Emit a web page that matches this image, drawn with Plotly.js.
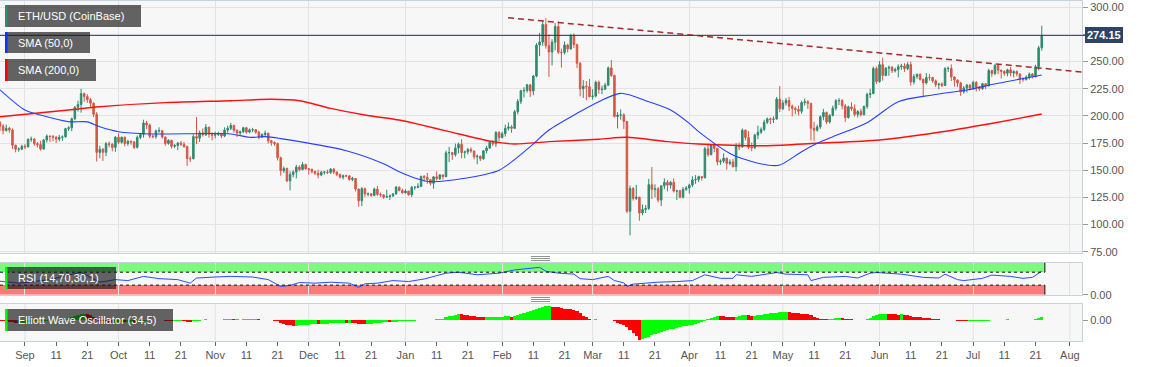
<!DOCTYPE html>
<html><head><meta charset="utf-8">
<script src="https://cdn.plot.ly/plotly-3.0.1.min.js"></script>
<style>html,body{margin:0;padding:0;background:#fff;}#chart{width:1153px;height:367px;}</style>
</head><body><div id="chart"></div>
<script>
// ---------- DATA ----------
const startDate = '2019-08-24';   // first daily candle
const open = [
194.2,190.6,186.6,188.6,187.0,173.0,169.3,169.4,
172.0,171.6,178.3,178.6,174.5,173.6,169.5,177.8,181.4,181.0,180.4,178.6,180.3,180.7,188.3,189.1,197.4,208.0,210.5,220.5,217.8,215.0,211.7,201.5,166.4,169.3,166.5,174.4,173.8,171.0,
180.4,175.7,180.4,174.6,176.6,176.0,171.1,180.2,182.9,193.5,191.6,181.3,180.9,186.2,186.4,180.6,174.7,177.5,172.0,172.7,175.0,173.8,171.9,160.7,160.6,181.0,179.5,184.4,182.6,189.6,183.1,
182.2,182.9,183.9,181.5,186.9,188.6,191.2,186.8,184.2,185.5,189.1,185.1,187.2,187.3,185.0,180.4,182.9,184.1,177.1,175.5,174.5,161.5,149.5,151.6,140.2,146.0,148.3,152.9,150.6,155.2,
151.3,150.8,148.9,147.2,145.6,148.1,148.4,148.0,151.0,148.3,146.0,143.6,144.9,144.8,141.4,142.4,132.7,121.9,133.0,128.2,128.3,126.8,132.7,127.7,127.3,125.2,125.8,126.3,128.2,134.4,131.4,
129.2,130.8,127.4,134.2,134.2,135.1,144.3,143.5,141.3,138.0,143.9,142.2,145.7,144.2,166.0,166.2,164.4,170.4,173.9,166.3,166.9,169.0,167.7,162.3,162.9,160.6,167.9,170.5,175.7,174.3,184.7,
180.0,183.6,188.6,189.9,188.6,203.9,213.2,223.1,223.5,228.6,222.9,236.7,265.2,268.0,284.2,264.7,258.9,267.9,282.3,258.6,258.5,265.3,261.7,274.2,265.6,248.5,224.9,227.3,226.8,
217.8,218.3,231.0,224.3,224.6,228.3,244.2,237.2,199.5,200.8,201.0,194.9,112.3,133.2,124.0,125.2,110.6,113.9,114.8,136.7,132.4,132.9,122.5,135.6,138.8,136.3,138.9,130.8,131.0,125.2,132.4,
133.6,136.3,141.1,141.6,144.1,143.1,169.7,164.5,173.2,170.2,157.7,158.4,161.1,156.3,157.6,153.3,172.2,171.6,186.9,180.1,171.1,170.7,182.4,185.0,187.6,194.2,197.3,196.8,197.2,215.5,
206.6,211.9,214.2,208.9,206.9,205.9,204.3,212.3,213.0,211.6,188.6,186.9,189.9,199.2,203.2,194.4,200.6,207.1,214.0,214.1,209.3,198.5,208.3,206.7,201.4,204.0,201.1,208.7,219.7,220.6,243.6,
231.7,247.2,237.2,244.0,244.7,241.5,242.7,245.3,245.9,243.5,247.3,231.2,236.3,238.3,233.6,230.4,235.4,235.3,232.3,228.8,229.4,228.0,243.5,243.8,235.9,233.0,230.2,222.2,225.6,228.3,
225.7,230.9,226.4,225.0,229.6,227.7,241.8,239.0,246.4,242.2,240.9,239.2,242.4,239.5,240.8,238.7,233.6,233.5,235.6,238.6,236.1,245.3,262.7];
const high = [
195.0,192.5,192.0,190.0,188.5,173.5,171.0,173.5,
174.0,179.5,181.0,179.5,176.0,177.0,179.0,183.0,182.0,182.5,181.5,182.5,182.0,189.0,190.5,198.5,209.0,214.0,225.0,221.5,220.0,216.5,212.5,203.5,172.5,170.5,176.0,176.5,175.0,181.5,
184.0,181.0,181.0,178.0,177.5,177.0,182.0,184.5,196.5,195.5,193.0,183.0,187.5,189.5,187.0,181.0,178.5,178.0,174.0,176.0,177.0,176.0,172.5,163.0,183.0,199.0,186.5,188.5,192.5,190.0,185.0,
185.5,185.5,184.5,189.5,191.0,193.5,192.0,187.5,186.5,190.0,190.0,188.5,189.0,188.0,186.5,184.0,186.5,184.5,178.0,176.5,175.5,162.5,153.5,152.5,149.0,150.0,155.0,154.5,157.5,156.0,
152.0,151.5,149.5,150.5,149.5,149.5,150.5,152.0,152.0,149.0,147.0,146.0,146.0,145.5,144.0,142.8,133.0,134.5,134.0,129.5,128.8,134.0,135.5,129.5,127.8,132.0,127.5,129.0,135.5,135.0,133.0,
132.5,131.0,135.5,135.5,138.0,145.0,145.5,147.5,142.0,144.5,149.0,146.5,146.0,168.0,171.5,166.5,174.5,175.5,178.5,168.0,170.5,171.0,168.0,164.5,163.5,168.5,172.5,176.5,178.0,186.0,186.0,
185.5,192.0,194.0,191.5,205.5,215.5,224.0,226.5,229.5,229.5,237.5,267.0,276.5,287.5,290.0,275.0,270.5,285.5,287.0,262.0,268.5,266.5,275.5,276.0,266.5,249.5,233.0,232.0,234.0,
224.5,232.5,232.5,228.0,230.5,245.5,251.5,238.0,203.5,206.0,202.5,195.5,136.0,134.5,136.5,125.5,118.5,118.0,142.0,153.0,137.0,134.5,136.0,142.5,141.0,140.0,142.5,132.0,132.0,134.5,135.5,
137.5,144.5,145.5,145.0,144.5,171.5,174.5,174.0,174.0,170.5,160.0,165.5,161.5,160.0,160.5,175.0,175.5,188.5,187.5,186.0,175.5,183.5,191.0,189.5,196.5,198.5,198.5,199.5,217.5,227.5,
214.5,216.5,217.5,210.5,208.5,209.5,214.0,216.0,214.5,212.0,194.5,192.0,200.5,206.5,204.0,201.5,209.5,215.5,216.5,215.5,211.0,209.5,212.5,210.5,205.5,206.5,209.5,221.5,225.0,245.5,245.5,
250.5,253.5,245.0,246.5,246.0,244.5,247.5,248.0,248.5,249.5,250.0,238.5,239.0,239.0,234.5,239.5,238.5,236.0,233.5,230.5,231.0,245.0,245.5,247.5,236.5,233.5,231.5,227.5,229.5,229.5,
232.5,232.0,227.5,230.5,230.0,243.5,242.5,248.0,247.5,242.5,242.0,243.5,245.0,242.0,242.0,239.0,235.5,237.5,240.0,239.5,247.0,264.5,283.0];
const low = [
186.0,183.0,185.5,184.5,169.5,166.5,167.0,168.5,
169.5,170.8,176.0,172.5,171.0,168.0,169.0,175.5,176.0,176.5,175.0,176.5,177.0,180.0,186.0,186.0,196.0,204.0,203.0,213.0,212.0,208.0,199.0,158.0,161.0,158.5,163.0,171.0,167.5,167.0,
174.0,174.5,172.0,172.5,173.5,169.5,170.0,178.5,180.0,188.0,179.5,179.5,179.0,184.5,179.0,172.5,173.5,170.0,170.5,168.5,172.5,170.5,154.0,157.5,160.0,174.0,176.0,181.0,181.5,180.0,177.5,
179.5,181.5,179.5,180.5,184.5,187.0,184.5,180.5,182.5,184.0,183.5,184.0,185.0,183.5,178.5,180.0,181.5,174.5,172.5,172.5,159.0,145.0,147.5,139.0,131.5,143.5,142.5,149.0,150.0,150.5,
146.0,147.0,145.5,142.5,144.5,146.0,146.5,146.5,146.5,144.5,142.5,141.5,143.5,140.5,140.0,130.5,116.5,117.0,125.5,126.0,125.5,126.0,126.5,125.5,123.5,124.5,122.5,125.5,127.5,130.5,128.5,
128.5,126.5,125.5,132.0,133.5,134.5,139.5,137.5,136.0,133.0,140.5,141.0,141.5,143.5,157.5,159.5,162.5,165.5,161.0,161.0,164.5,166.0,160.0,155.5,158.5,159.5,165.5,169.5,172.5,171.5,176.5,
179.5,181.0,186.5,184.5,188.0,201.5,211.0,217.0,221.5,217.5,219.0,235.5,255.0,264.5,262.0,236.0,246.5,260.5,257.0,244.5,256.5,258.5,261.0,262.5,244.0,218.0,216.5,214.5,217.0,
215.0,217.0,220.5,220.0,224.0,227.5,236.0,198.5,188.5,196.5,188.0,110.5,90.0,122.0,122.5,103.5,108.5,110.5,113.5,123.5,125.0,120.5,117.0,132.5,130.5,133.0,129.5,122.5,124.0,124.0,131.0,
128.5,134.5,137.5,139.0,140.5,142.5,162.5,163.5,166.5,154.5,155.0,156.5,150.5,154.5,152.5,149.0,168.5,170.5,177.5,169.5,167.5,169.5,178.5,183.5,186.0,192.5,192.5,193.5,196.5,203.5,
205.5,209.5,204.5,199.5,201.5,200.5,202.0,209.5,206.5,177.5,177.0,185.5,188.0,196.0,192.5,193.0,199.5,205.0,210.0,206.0,194.5,197.5,204.5,199.5,198.5,199.5,200.5,206.5,216.5,220.0,229.5,
230.5,232.5,236.5,237.0,239.5,240.0,235.5,242.5,240.5,242.0,228.0,229.0,234.0,232.5,218.5,229.0,232.5,230.5,226.5,224.5,226.5,227.5,240.5,232.0,227.0,226.5,218.5,220.5,221.5,223.5,
224.0,222.5,223.0,224.0,224.5,227.0,236.0,237.5,238.5,234.5,237.0,236.5,236.5,235.5,236.5,229.5,231.5,232.5,233.5,234.5,235.5,242.0,260.0];
const close = [
190.6,186.6,188.6,187.0,173.0,169.3,169.4,172.0,
171.6,178.3,178.6,174.5,173.6,169.5,177.8,181.4,181.0,180.4,178.6,180.3,180.7,188.3,189.1,197.4,208.0,210.5,220.5,217.8,215.0,211.7,201.5,166.4,169.3,166.5,174.4,173.8,171.0,180.4,
175.7,180.4,174.6,176.6,176.0,171.1,180.2,182.9,193.5,191.6,181.3,180.9,186.2,186.4,180.6,174.7,177.5,172.0,172.7,175.0,173.8,171.9,160.7,160.6,181.0,179.5,184.4,182.6,189.6,183.1,182.2,
182.9,183.9,181.5,186.9,188.6,191.2,186.8,184.2,185.5,189.1,185.1,187.2,187.3,185.0,180.4,182.9,184.1,177.1,175.5,174.5,161.5,149.5,151.6,140.2,146.0,148.3,152.9,150.6,155.2,151.3,
150.8,148.9,147.2,145.6,148.1,148.4,148.0,151.0,148.3,146.0,143.6,144.9,144.8,141.4,142.4,132.7,121.9,133.0,128.2,128.3,126.8,132.7,127.7,127.3,125.2,125.8,126.3,128.2,134.4,131.4,129.2,
130.8,127.4,134.2,134.2,135.1,144.3,143.5,141.3,138.0,143.9,142.2,145.7,144.2,166.0,166.2,164.4,170.4,173.9,166.3,166.9,169.0,167.7,162.3,162.9,160.6,167.9,170.5,175.7,174.3,184.7,180.0,
183.6,188.6,189.9,188.6,203.9,213.2,223.1,223.5,228.6,222.9,236.7,265.2,268.0,284.2,264.7,258.9,267.9,282.3,258.6,258.5,265.3,261.7,274.2,265.6,248.5,224.9,227.3,226.8,217.8,
218.3,231.0,224.3,224.6,228.3,244.2,237.2,199.5,200.8,201.0,194.9,112.3,133.2,124.0,125.2,110.6,113.9,114.8,136.7,132.4,132.9,122.5,135.6,138.8,136.3,138.9,130.8,131.0,125.2,132.4,133.6,
136.3,141.1,141.6,144.1,143.1,169.7,164.5,173.2,170.2,157.7,158.4,161.1,156.3,157.6,153.3,172.2,171.6,186.9,180.1,171.1,170.7,182.4,185.0,187.6,194.2,197.3,196.8,197.2,215.5,206.6,
211.9,214.2,208.9,206.9,205.9,204.3,212.3,213.0,211.6,188.6,186.9,189.9,199.2,203.2,194.4,200.6,207.1,214.0,214.1,209.3,198.5,208.3,206.7,201.4,204.0,201.1,208.7,219.7,220.6,243.6,231.7,
247.2,237.2,244.0,244.7,241.5,242.7,245.3,245.9,243.5,247.3,231.2,236.3,238.3,233.6,230.4,235.4,235.3,232.3,228.8,229.4,228.0,243.5,243.8,235.9,233.0,230.2,222.2,225.6,228.3,225.7,
230.9,226.4,225.0,229.6,227.7,241.8,239.0,246.4,242.2,240.9,239.2,242.4,239.5,240.8,238.7,233.6,233.5,235.6,238.6,236.1,245.3,262.7,274.15];

// Elliott Wave Oscillator (34,5), one value per candle
const ewo = [
-3,-4,-5,-6,-9,-12,-12,-11,
-10,-8,-6,-5,-4,-4,-3,-2,0,1,2,3,4,6,9,13,17,21,25,27,26,22,15,6,-1,-3,-7,-10,-12,-10,
-9,-8,-9,-8,-8,-10,-8,-6,-3,-1,0,0,1,1,0,-2,-3,-5,-4,-4,-4,-5,-7,-8,-5,-3,-1,2,4,3,2,
2,3,3,4,5,5,4,4,3,4,4,5,5,5,4,3,3,2,1,-1,-5,-11,-15,-19,-22,-24,-23,-22,-20,-19,
-18,-17,-16,-17,-16,-15,-14,-13,-12,-11,-11,-10,-11,-10,-11,-12,-14,-15,-16,-15,-14,-13,-12,-10,-9,-8,-9,-7,-6,-5,-4,
-3,-3,-2,-1,0,1,2,3,3,2,4,6,7,12,17,20,24,27,26,24,22,20,17,15,13,12,12,13,14,15,16,
16,17,17,16,20,24,28,32,36,38,42,48,53,58,60,62,58,57,55,52,50,48,47,44,40,30,20,12,6,
3,4,2,0,1,3,1,-5,-10,-15,-20,-30,-40,-52,-66,-82,-79,-76,-70,-64,-59,-54,-50,-46,-42,-38,-35,-32,-29,-26,-23,
-20,-18,-14,-10,-6,-1,4,10,15,19,18,17,16,15,14,16,18,21,22,21,19,20,22,24,26,28,30,31,33,34,
35,36,35,33,31,29,28,27,25,21,15,10,6,5,4,5,6,8,9,8,6,5,4,3,2,1,2,6,10,18,22,
26,27,28,27,26,25,24,25,23,22,19,16,14,12,10,9,8,6,5,4,3,3,2,1,0,-1,-3,-4,-5,-5,
-4,-4,-3,-3,-2,-1,0,1,2,3,3,4,3,3,2,2,1,1,1,2,4,9,16];

// SMA lines (read at sample dates)
const sma50Dates = ['2019-08-24','2019-09-01','2019-09-06','2019-09-15','2019-09-21','2019-09-25','2019-10-01','2019-10-11','2019-11-06','2019-11-12','2019-11-17','2019-11-22','2019-12-13','2019-12-25','2019-12-30','2020-01-05','2020-01-09','2020-01-20','2020-01-31','2020-02-10','2020-02-16','2020-02-25','2020-03-03','2020-03-10','2020-03-19','2020-03-26','2020-04-01','2020-04-04','2020-04-15','2020-04-26','2020-04-30','2020-05-07','2020-05-12','2020-05-17','2020-05-28','2020-06-07','2020-06-18','2020-06-29','2020-07-09','2020-07-23'];
const sma50Values = [224,205.4,200.8,194.7,194.5,190,185.5,183.4,183.4,180.3,180.9,179.1,168,156,148.7,142,139.5,142.6,150,171.7,187,202.4,213.1,220.8,213.1,205.5,193.2,185.5,164,154.8,154.8,167,174.8,180.9,193.8,213.1,219.3,223.9,230,237.7];
const sma200Dates = ['2019-08-24','2019-09-15','2019-09-25','2019-10-16','2019-11-06','2019-11-19','2019-11-28','2019-12-08','2019-12-19','2019-12-30','2020-01-05','2020-01-15','2020-01-29','2020-02-05','2020-02-16','2020-03-03','2020-03-12','2020-03-25','2020-04-04','2020-04-26','2020-05-12','2020-06-01','2020-06-18','2020-07-04','2020-07-23'];
const sma200Values = [199.3,205.5,208.5,212.2,214,215.3,214,207,200.9,196.2,192.5,185.5,176.3,174.2,176.3,178.5,180.3,176.3,174.2,172.6,174.8,177.8,184,191.6,201.8];

// RSI (14) read at sample dates
const rsiDates = ['2019-08-24','2019-08-30','2019-09-09','2019-09-19','2019-09-25','2019-09-30','2019-10-04','2019-10-09','2019-10-14','2019-10-20','2019-10-24','2019-10-26','2019-11-01','2019-11-06','2019-11-13','2019-11-18','2019-11-22','2019-11-25','2019-11-28','2019-12-03','2019-12-08','2019-12-14','2019-12-17','2019-12-19','2019-12-23','2019-12-28','2020-01-02','2020-01-07','2020-01-14','2020-01-18','2020-01-24','2020-01-31','2020-02-05','2020-02-09','2020-02-13','2020-02-15','2020-02-19','2020-02-24','2020-02-26','2020-03-01','2020-03-06','2020-03-08','2020-03-11','2020-03-12','2020-03-14','2020-03-18','2020-03-22','2020-03-28','2020-04-02','2020-04-06','2020-04-11','2020-04-15','2020-04-16','2020-04-21','2020-04-29','2020-05-02','2020-05-09','2020-05-10','2020-05-14','2020-05-21','2020-05-25','2020-05-29','2020-05-31','2020-06-08','2020-06-15','2020-06-20','2020-06-22','2020-06-26','2020-06-28','2020-07-04','2020-07-07','2020-07-13','2020-07-17','2020-07-20','2020-07-22','2020-07-23'];
const rsiValues = [42,36,47,70,39,47,44,57,50,47,36,52,55,57,55,47,26,29,38,36,39,36,23,34,36,44,41,49,67,70,62,67,77,80,85,73,67,64,50,47,57,44,37,26,33,36,39,41,44,62,51,51,62,57,69,64,62,44,54,57,52,67,69,64,54,52,64,47,44,51,61,57,51,54,67,73];
const rsiLevels = [30, 70];

// Trend line (dashed) end points
const trendDates = ['2020-02-02 21:00', '2020-08-04 21:40'];
const trendValues = [290.4, 240.4];

// Axis ticks (275.00 is hidden behind the last-price tag in the reference)
const priceTicks = [75,100,125,150,175,200,225,250,275,300];
const priceLabels = ['75.00','100.00','125.00','150.00','175.00','200.00','225.00','250.00','','300.00'];
const monthStarts = ['2019-09-01','2019-10-01','2019-11-01','2019-12-01','2020-01-01','2020-02-01','2020-03-01','2020-04-01','2020-05-01','2020-06-01','2020-07-01','2020-08-01'];
const monthLabels = ['Sep','Oct','Nov','Dec','Jan','Feb','Mar','Apr','May','Jun','Jul','Aug'];
const dayTicks = ['11','21'];

// ---------- BUILD ----------
const DAY = 864e5;
const t0 = Date.parse(startDate + 'T00:00:00Z');
const n = close.length;
const dates = [];
for (let i = 0; i < n; i++) dates.push(new Date(t0 + i * DAY).toISOString().slice(0, 10));
const lastClose = close[n - 1];
const bandEnd = new Date(t0 + n * DAY).toISOString().slice(0, 10);

const xTickVals = [], xTickText = [];
monthStarts.forEach((m, i) => {
  xTickVals.push(m); xTickText.push(monthLabels[i]);
  dayTicks.forEach(d => { xTickVals.push(m.slice(0, 8) + d); xTickText.push(d); });
});

const ewoColors = ewo.map((v, i) => (i > 0 && v >= ewo[i - 1]) ? '#00ff00' : '#ff0000');

// layout geometry (pixels)
const W = 1153, H = 367, ML = 0, MR = 71, MT = 1, MB = 26;
const PW = W - ML - MR, PH = H - MT - MB;
const px = x => (x - ML) / PW;
const py = y => 1 - (y - MT) / PH;
const pxPerDay = 3.119;
const iso = ms => new Date(ms).toISOString().replace('T', ' ').replace('Z', '');
const xRange = [iso(t0), iso(t0 + (PW / pxPerDay) * DAY)];

const FONT = 'Liberation Sans, Arial, sans-serif';
const frame = '#c9d0df', grid = '#e3e3e3';
const tickFont = {family: FONT, size: 11, color: '#555'};

const traces = [
  {type: 'candlestick', x: dates, open: open, high: high, low: low, close: close,
   xaxis: 'x', yaxis: 'y', whiskerwidth: 0, hoverinfo: 'skip',
   increasing: {line: {color: '#2e8b6f', width: 1}, fillcolor: '#2e8b6f'},
   decreasing: {line: {color: '#d65745', width: 1}, fillcolor: '#d65745'}},
  {type: 'scatter', mode: 'lines', x: sma200Dates, y: sma200Values, xaxis: 'x', yaxis: 'y',
   line: {color: '#ff1010', width: 1.4, shape: 'spline', smoothing: 0.8}, hoverinfo: 'skip'},
  {type: 'scatter', mode: 'lines', x: sma50Dates, y: sma50Values, xaxis: 'x', yaxis: 'y',
   line: {color: '#2540ff', width: 1.1, shape: 'spline', smoothing: 0.8}, hoverinfo: 'skip'},
  {type: 'scatter', mode: 'lines', x: trendDates, y: trendValues, xaxis: 'x', yaxis: 'y',
   line: {color: '#a52a2a', width: 1.5, dash: '6px,4px'}, hoverinfo: 'skip'},
  {type: 'scatter', mode: 'lines', x: rsiDates, y: rsiValues, xaxis: 'x2', yaxis: 'y2',
   line: {color: '#2a4bff', width: 1}, hoverinfo: 'skip'},
  {type: 'bar', x: dates, y: ewo, xaxis: 'x3', yaxis: 'y3', width: DAY,
   marker: {color: ewoColors, line: {width: 0}}, hoverinfo: 'skip'}
];

const xBase = {type: 'date', range: xRange, showline: true, mirror: true, linecolor: frame, linewidth: 1,
  zeroline: false, fixedrange: true};
const yBase = {side: 'right', showline: true, mirror: true, linecolor: frame, linewidth: 1, zeroline: false,
  fixedrange: true, ticks: 'outside', ticklen: 5, tickcolor: '#999', tickfont: tickFont, tickformat: '.2f'};

const shapes = [];
// vertical month grid on the oscillator panel
monthStarts.forEach(m => shapes.push({type: 'line', xref: 'x3', yref: 'y3 domain', x0: m, x1: m, y0: 0, y1: 1,
  line: {color: grid, width: 1}, layer: 'below'}));
// RSI bands
shapes.push({type: 'rect', xref: 'x2', yref: 'y2', x0: xRange[0], x1: bandEnd, y0: rsiLevels[1], y1: 100,
  fillcolor: 'rgba(0,255,0,0.5)', line: {width: 0}, layer: 'below'});
shapes.push({type: 'rect', xref: 'x2', yref: 'y2', x0: xRange[0], x1: bandEnd, y0: 0, y1: rsiLevels[0],
  fillcolor: 'rgba(255,0,0,0.5)', line: {width: 0}, layer: 'below'});
rsiLevels.forEach(l => shapes.push({type: 'line', xref: 'x2', yref: 'y2', x0: xRange[0], x1: bandEnd, y0: l, y1: l,
  line: {color: '#111', width: 1, dash: 'dot'}}));
shapes.push({type: 'line', xref: 'x2', yref: 'y2', x0: bandEnd, x1: bandEnd, y0: rsiLevels[1], y1: 100, line: {color: '#111', width: 1}});
shapes.push({type: 'line', xref: 'x2', yref: 'y2', x0: bandEnd, x1: bandEnd, y0: 0, y1: rsiLevels[0], line: {color: '#111', width: 1}});
// last price line
shapes.push({type: 'line', xref: 'paper', yref: 'y', x0: 0, x1: px(1086), y0: lastClose, y1: lastClose,
  line: {color: '#2b3f5c', width: 1}});
// panel handles (three thin lines)
[[256.5, 258.5, 260.5], [297.5, 299.5, 301.5]].forEach(ys => ys.forEach(y => shapes.push({type: 'line', xref: 'paper', yref: 'paper',
  x0: px(531), x1: px(550), y0: py(y), y1: py(y), line: {color: '#777', width: 0.8}})));

// legend label boxes
const boxes = [
  {text: 'ETH/USD (CoinBase)', x0: 5, x1: 141, y0: 5, y1: 27, bar: '#2e8b6f'},
  {text: 'SMA (50,0)', x0: 5, x1: 90, y0: 32, y1: 53, bar: '#1030ff'},
  {text: 'SMA (200,0)', x0: 5, x1: 96, y0: 59, y1: 81, bar: '#ff0000'},
  {text: 'RSI (14,70,30,1)', x0: 5, x1: 116, y0: 267, y1: 289, bar: '#00ff00'},
  {text: 'Elliott Wave Oscillator (34,5)', x0: 5, x1: 173, y0: 309, y1: 331, bar: '#00ff00'}
];
const annotations = [];
boxes.forEach(b => {
  shapes.push({type: 'rect', xref: 'paper', yref: 'paper', x0: px(b.x0), x1: px(b.x1), y0: py(b.y1), y1: py(b.y0),
    fillcolor: 'rgba(22,22,22,0.66)', line: {width: 0}});
  shapes.push({type: 'rect', xref: 'paper', yref: 'paper', x0: px(b.x0), x1: px(b.x0 + 2.5), y0: py(b.y1), y1: py(b.y0),
    fillcolor: b.bar, line: {width: 0}});
  annotations.push({xref: 'paper', yref: 'paper', x: px(b.x0 + 11), y: py((b.y0 + b.y1) / 2), xanchor: 'left', yanchor: 'middle',
    text: b.text, showarrow: false, font: {family: FONT, size: 11, color: '#ffffff'}});
});
annotations.push({xref: 'paper', yref: 'y', x: 1, y: lastClose, xanchor: 'left', yanchor: 'middle', xshift: 3,
  text: '<b>' + lastClose.toFixed(2) + '</b>', showarrow: false, bgcolor: '#2d4468', bordercolor: '#2d4468', borderpad: 1,
  font: {family: FONT, size: 11, color: '#ffffff'}});

const layout = {
  width: W, height: H, margin: {l: ML, r: MR, t: MT, b: MB, pad: 0},
  paper_bgcolor: '#ffffff', plot_bgcolor: '#f7f7f7', showlegend: false, bargap: 0,
  font: {family: FONT, size: 11, color: '#555'},
  xaxis: Object.assign({}, xBase, {anchor: 'y', tickmode: 'array', tickvals: monthStarts, showticklabels: false, ticks: '',
    showgrid: true, gridcolor: grid, rangeslider: {visible: false}}),
  xaxis2: Object.assign({}, xBase, {anchor: 'y2', tickmode: 'array', tickvals: monthStarts, showticklabels: false, ticks: '',
    showgrid: true, gridcolor: grid}),
  xaxis3: Object.assign({}, xBase, {anchor: 'y3', tickmode: 'array', tickvals: xTickVals, ticktext: xTickText,
    ticks: 'outside', ticklen: 4, tickcolor: '#666', showgrid: false, tickfont: tickFont}),
  yaxis: Object.assign({}, yBase, {anchor: 'x', domain: [py(253), 1], range: [73.8, 305.8], tickmode: 'array',
    tickvals: priceTicks, ticktext: priceLabels, showgrid: true, gridcolor: grid}),
  yaxis2: Object.assign({}, yBase, {anchor: 'x2', domain: [py(294.8), py(262.5)], range: [0, 100], tickmode: 'array',
    tickvals: [0], showgrid: false}),
  yaxis3: Object.assign({}, yBase, {anchor: 'x3', domain: [0, py(303.7)], range: [-88, 70.6], tickmode: 'array',
    tickvals: [0], showgrid: false}),
  shapes: shapes, annotations: annotations
};

Plotly.newPlot('chart', traces, layout, {staticPlot: true, displayModeBar: false});
</script>
</body></html>
